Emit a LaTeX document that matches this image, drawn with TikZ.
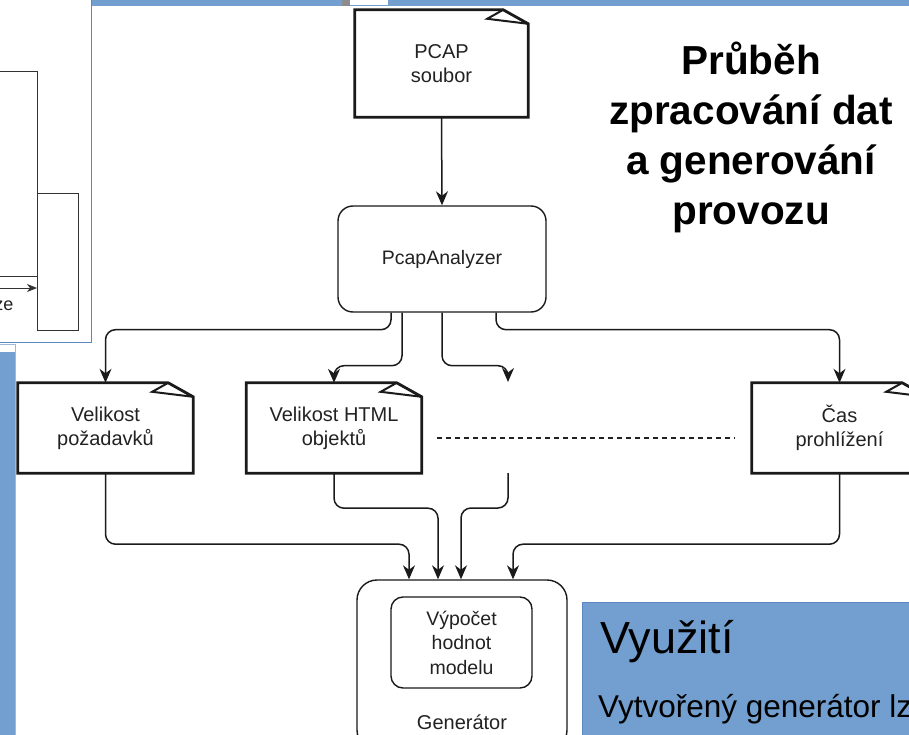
\documentclass[tikz,border=0pt]{standalone}
\usepackage{fontspec}
\setmainfont{Liberation Sans}
\usetikzlibrary{arrows.meta}
\definecolor{posterblue}{HTML}{729FCF}
\definecolor{bluedge}{HTML}{5B88C0}
\definecolor{ink}{HTML}{1A1A1A}
\definecolor{txt}{HTML}{222222}
\newcommand{\notedraw}[1]{%
  \draw[noteline] (#1.north west) -- ([xshift=-25pt]#1.north east) -- ([yshift=-14pt]#1.north east) -- (#1.south east) -- (#1.south west) -- cycle;
  \draw[noteline, line width=2pt] ([xshift=-25pt]#1.north east) -- ([xshift=-41pt,yshift=-9pt]#1.north east) -- ([yshift=-14pt]#1.north east);}
\tikzset{
  noteline/.style={draw=ink, line width=2.8pt, line join=miter},
  notebox/.style={draw=none, minimum width=175pt, minimum height=90pt, inner sep=0pt, align=center, text=txt, font=\fontsize{20}{24}\selectfont},
  roundbox/.style={draw=ink, line width=1.4pt, rounded corners=15pt, inner sep=0pt, align=center, text=txt, font=\fontsize{19.5}{24.5}\selectfont},
  conn/.style={draw=ink, line width=1.5pt, rounded corners=10pt, -{Stealth[length=14pt,width=12pt,inset=4.5pt]}},
  panelline/.style={draw=black!80, line width=1pt},
  titlefont/.style={font=\bfseries\fontsize{40.5}{50}\selectfont, anchor=base, text=black}
}
\begin{document}
\begin{tikzpicture}[x=1pt,y=-1pt]
\useasboundingbox (0,0) rectangle (909,735);
\clip (0,0) rectangle (909,735);
\fill[white] (0,0) rectangle (909,735);

% top strip of the poster
\fill[posterblue] (92,0) rectangle (909,6);
\fill[black!45] (342,0) rectangle (350,6);
\fill[white] (350,0) rectangle (388,5);

% left panel (part of a neighbouring figure)
\draw[bluedge, line width=1pt, fill=white] (-3,-3) rectangle (91.5,342.5);
\draw[panelline] (-5,72) rectangle (37,276);
\draw[panelline] (37,194) rectangle (78,330);
\coordinate (la1) at (-5,288);
\coordinate (la2) at (37,288);
\draw[panelline, -{Stealth[length=10pt,width=8pt,inset=3pt]}] (la1) -- (la2);
\coordinate (ld1) at (37,276);
\coordinate (ld2) at (37,303);
\draw[panelline, dash pattern=on 3pt off 3pt] (ld1) -- (ld2);
\node[anchor=base east, inner sep=0pt, font=\fontsize{18}{22}\selectfont, text=txt] (ze) at (13.5,310) {ze};

% left blue strip
\fill[white] (0,344) rectangle (15,352);
\draw[bluedge!60, line width=0.8pt] (-2,344) rectangle (15,740);
\fill[posterblue] (0,352) rectangle (15,740);

% title
\node[titlefont] (t1) at (751,75) {Průběh};
\node[titlefont] (t2) at (751,125) {zpracování dat};
\node[titlefont] (t3) at (751,175) {a generování};
\node[titlefont] (t4) at (751,225) {provozu};

% nodes
\node[notebox, minimum width=173pt, minimum height=107pt] (pcap) at (441.5,63.5) {PCAP\\soubor};
\notedraw{pcap}
\node[roundbox, minimum width=208pt, minimum height=106pt] (pa) at (442,259) {PcapAnalyzer};

\node[notebox] (n1) at (105.5,428) {Velikost\\požadavků};
\notedraw{n1}
\node[notebox] (n2) at (334,428) {Velikost HTML\\objektů};
\notedraw{n2}
\node[notebox] (n3) at (839.5,428) {Čas\\prohlížení};
\notedraw{n3}

\node[roundbox, rounded corners=20pt, minimum width=210pt, minimum height=170pt] (gen) at (462,665) {};
\node[roundbox, rounded corners=12pt, minimum width=141pt, minimum height=91pt] (calc) at (461.5,642.5) {Výpočet\\hodnot\\modelu};
\node[text=txt, font=\fontsize{20}{24}\selectfont, inner sep=0pt] (genlabel) at (462,722) {Generátor};

\coordinate (free1) at (508,382);
\coordinate (free2) at (508,473);
\coordinate (dl1) at (437,438);
\coordinate (dl2) at (735,438);

% connectors
\draw[conn] (pcap.south) -- (pa.north);
\draw[conn] ([xshift=-51pt]pa.south) -- ++(0,17) -| (n1.north);
\draw[conn] ([xshift=-40pt]pa.south) -- ++(0,53) -| (n2.north);
\draw[conn] (pa.south) -- ++(0,53) -| (free1);
\draw[conn] ([xshift=54pt]pa.south) -- ++(0,17) -| (n3.north);

\draw[conn] (n1.south) -- ++(0,71) -| ([xshift=-53pt]gen.north);
\draw[conn] (n2.south) -- ++(0,35) -| ([xshift=-24pt]gen.north);
\draw[conn] (free2) -- ++(0,35) -| ([xshift=-1pt]gen.north);
\draw[conn] (n3.south) -- ++(0,71) -| ([xshift=51pt]gen.north);

\draw[draw=txt, line width=1.2pt, dash pattern=on 5pt off 4pt] (dl1) -- (dl2);

% bottom-right blue box
\draw[bluedge, line width=0.8pt, fill=posterblue] (582,602) rectangle (915,745);
\node[anchor=base west, inner sep=0pt, font=\fontsize{45}{50}\selectfont, text=black] (use) at (600,653) {Využití};
\node[anchor=base west, inner sep=0pt, font=\fontsize{31.5}{36}\selectfont, text=black] (usetext) at (598,717) {Vytvořený generátor lz};
\end{tikzpicture}
\end{document}
